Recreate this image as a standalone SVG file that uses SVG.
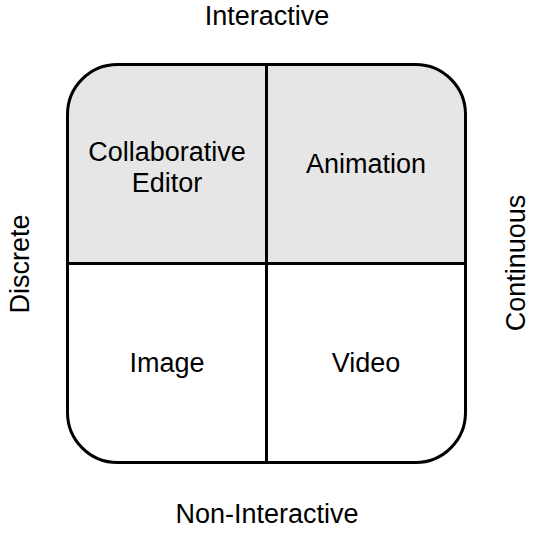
<svg xmlns="http://www.w3.org/2000/svg" width="537" height="534" viewBox="0 0 537 534">
  <style>
    .t { font-family: "Liberation Sans", Arial, sans-serif; font-size: 27px; fill: #000; text-anchor: middle; }
    .ln { stroke: #000; stroke-width: 3; fill: none; }
  </style>
  <rect width="537" height="534" fill="#fff"/>
  <!-- quadrant grid -->
  <g id="grid">
    <rect x="67.5" y="64.5" width="398" height="398" rx="50" ry="50" fill="#fff"/>
    <path d="M67.5,263.5 V114.5 A50,50 0 0 1 117.5,64.5 H415.5 A50,50 0 0 1 465.5,114.5 V263.5 Z" fill="#e6e6e6"/>
  </g>
  <g id="cell-collab">
    <text class="t" x="167" y="161">Collaborative</text>
    <text class="t" x="167" y="192">Editor</text>
  </g>
  <g id="cell-animation">
    <text class="t" x="366" y="173">Animation</text>
  </g>
  <g id="cell-image">
    <text class="t" x="167" y="372">Image</text>
  </g>
  <g id="cell-video">
    <text class="t" x="366" y="372">Video</text>
  </g>
  <g id="connectors">
    <rect class="ln" x="67.5" y="64.5" width="398" height="398" rx="50" ry="50"/>
    <line class="ln" x1="266.5" y1="64.5" x2="266.5" y2="462.5"/>
    <line class="ln" x1="67.5" y1="263.5" x2="465.5" y2="263.5"/>
  </g>
  <!-- axis labels -->
  <g id="axis-top"><text class="t" x="267" y="25">Interactive</text></g>
  <g id="axis-bottom"><text class="t" x="267" y="523">Non-Interactive</text></g>
  <g id="axis-left"><text class="t" transform="translate(29,264) rotate(-90)">Discrete</text></g>
  <g id="axis-right"><text class="t" transform="translate(525,263) rotate(-90)">Continuous</text></g>
</svg>
